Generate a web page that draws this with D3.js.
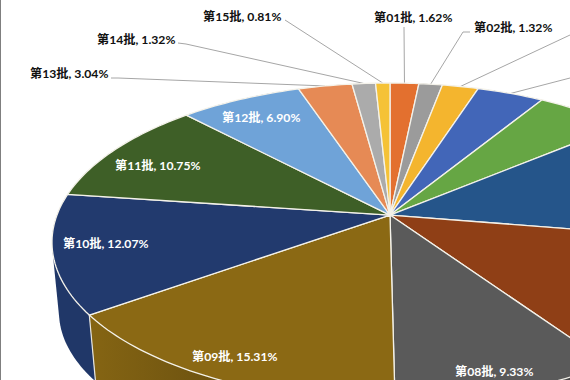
<!DOCTYPE html>
<html>
<head>
<meta charset="utf-8">
<script src="https://cdn.jsdelivr.net/npm/d3@7"></script>
<style>
  html, body { margin: 0; padding: 0; background: #fff; }
  text { font-family: Lato, "Noto Sans CJK SC", sans-serif; font-weight: 700; font-size: 12.2px; }
</style>
</head>
<body>
<div id="chart"></div>
<script>
// Data, clockwise from 12 o'clock. 03-07 have no readable label, values are estimated from the slice angles
var batches = ["第01批", "第02批", "第03批", "第04批", "第05批", "第06批", "第07批", "第08批",
  "第09批", "第10批", "第11批", "第12批", "第13批", "第14批", "第15批"];
var shares = [1.62, 1.32, 2.04, 3.77, 5.15, 13.7, 12.87, 9.33, 15.31, 12.07, 10.75, 6.90, 3.04, 1.32, 0.81];
var sliceColors = ["#e3702f", "#9b9b9b", "#f4b52e", "#4266b8", "#66a644", "#25558a", "#8f3f16", "#5a5a5a",
  "#8b6914", "#223a6e", "#3e5f27", "#6fa3d8", "#e68a55", "#ababab", "#f5c236"];

// Label placement, by index into batches: text start, baseline, colour, leader start
var labelLayout = [
  { i: 0, x: 374, y: 22, color: "#111", leader: [[404, 27]] },
  { i: 1, x: 474, y: 32, color: "#111", leader: [[470, 32], [463, 32]] },
  { i: 2, color: "#111", leader: [[570, 35]] },
  { i: 3, color: "#111", leader: [[570, 78]] },
  { i: 7, x: 455, y: 376, color: "#fff" },
  { i: 8, x: 192, y: 361, color: "#fff" },
  { i: 9, x: 63, y: 248, color: "#fff" },
  { i: 10, x: 115, y: 170, color: "#fff" },
  { i: 11, x: 222, y: 122, color: "#fff" },
  { i: 12, x: 30, y: 78, color: "#111", leader: [[111, 78], [118, 78]] },
  { i: 13, x: 97, y: 44, color: "#111", leader: [[178, 43], [186, 44]] },
  { i: 14, x: 203, y: 21, color: "#111", leader: [[285, 20]] }
];

var svgWidth = 570;
var svgHeight = 380;

var svg = d3.select("#chart")
  .append("svg")
  .attr("width", svgWidth)
  .attr("height", svgHeight)
  .style("display", "block");

// Top and bottom faces of the tilted pie, centre of the disc lands above the ellipse centre
var tilt = -0.171;
var topFace = { cx: 390, cy: 242.3, rx: 338, ry: 159.3 };
var bottomFace = { cx: 390, cy: 312, rx: 331, ry: 152 };

// Perspective mapping from the unit disc to a face
function project(face, angle, r) {
  var u = r * Math.sin(angle);
  var v = -r * Math.cos(angle);
  var w = 1 + tilt * v;
  return [
    face.cx + face.rx * u * Math.sqrt(1 - tilt * tilt) / w,
    face.cy + face.ry * (v + tilt) / w
  ];
}

function rimPoints(face, a0, a1) {
  var n = Math.max(2, Math.ceil((a1 - a0) / 0.02));
  return d3.range(n + 1).map(function(k) {
    return project(face, a0 + (a1 - a0) * k / n, 1);
  });
}

var pie = d3.pie().sort(null).value(function(d) { return d; });
var arcs = pie(shares);
var line = d3.line();

// Gradients for the side wall
var defs = svg.append("defs");
arcs.forEach(function(d, i) {
  var base = d3.color(sliceColors[i]);
  var grad = defs.append("linearGradient")
    .attr("id", "wall" + i)
    .attr("gradientUnits", "userSpaceOnUse")
    .attr("x1", 95).attr("x2", 210).attr("y1", 0).attr("y2", 0);
  grad.append("stop").attr("offset", "0%").attr("stop-color", base.darker(0.15));
  grad.append("stop").attr("offset", "100%").attr("stop-color", base.darker(0.65));
});

// Side wall, hull of both rims because the ribbon folds over itself at the silhouette
svg.append("g").selectAll("path")
  .data(arcs)
  .enter()
  .append("path")
  .attr("d", function(d) {
    var pts = rimPoints(topFace, d.startAngle, d.endAngle)
      .concat(rimPoints(bottomFace, d.startAngle, d.endAngle));
    return line(d3.polygonHull(pts)) + "Z";
  })
  .attr("fill", function(d, i) { return "url(#wall" + i + ")"; });

// Wall edges between slices
svg.append("g").selectAll("path")
  .data(arcs)
  .enter()
  .append("path")
  .attr("d", function(d) {
    return line([project(topFace, d.startAngle, 1), project(bottomFace, d.startAngle, 1)]);
  })
  .attr("stroke", "#e8e6df")
  .attr("stroke-width", 1.2);

// Leader lines
svg.append("g").selectAll("path")
  .data(labelLayout.filter(function(l) { return l.leader; }))
  .enter()
  .append("path")
  .attr("d", function(l) {
    var d = arcs[l.i];
    return line(l.leader.concat([project(topFace, (d.startAngle + d.endAngle) / 2, 1)]));
  })
  .attr("fill", "none")
  .attr("stroke", "#a6a6a6")
  .attr("stroke-width", 1);

// Top face
svg.append("g").selectAll("path")
  .data(arcs)
  .enter()
  .append("path")
  .attr("d", function(d) {
    return line([project(topFace, 0, 0)].concat(rimPoints(topFace, d.startAngle, d.endAngle))) + "Z";
  })
  .attr("fill", function(d, i) { return sliceColors[i]; })
  .attr("stroke", "#f4f2ea")
  .attr("stroke-width", 1.3)
  .attr("stroke-linejoin", "round");

// Labels
svg.append("g").selectAll("text")
  .data(labelLayout.filter(function(l) { return l.x !== undefined; }))
  .enter()
  .append("text")
  .attr("x", function(l) { return l.x; })
  .attr("y", function(l) { return l.y; })
  .attr("fill", function(l) { return l.color; })
  .text(function(l) { return batches[l.i] + ", " + shares[l.i].toFixed(2) + "%"; });

// Grey edge on the left of the screenshot
svg.append("line")
  .attr("x1", 0.5).attr("x2", 0.5)
  .attr("y1", 0).attr("y2", svgHeight)
  .attr("stroke", "#7f7f7f")
  .attr("stroke-width", 1);
</script>
</body>
</html>
